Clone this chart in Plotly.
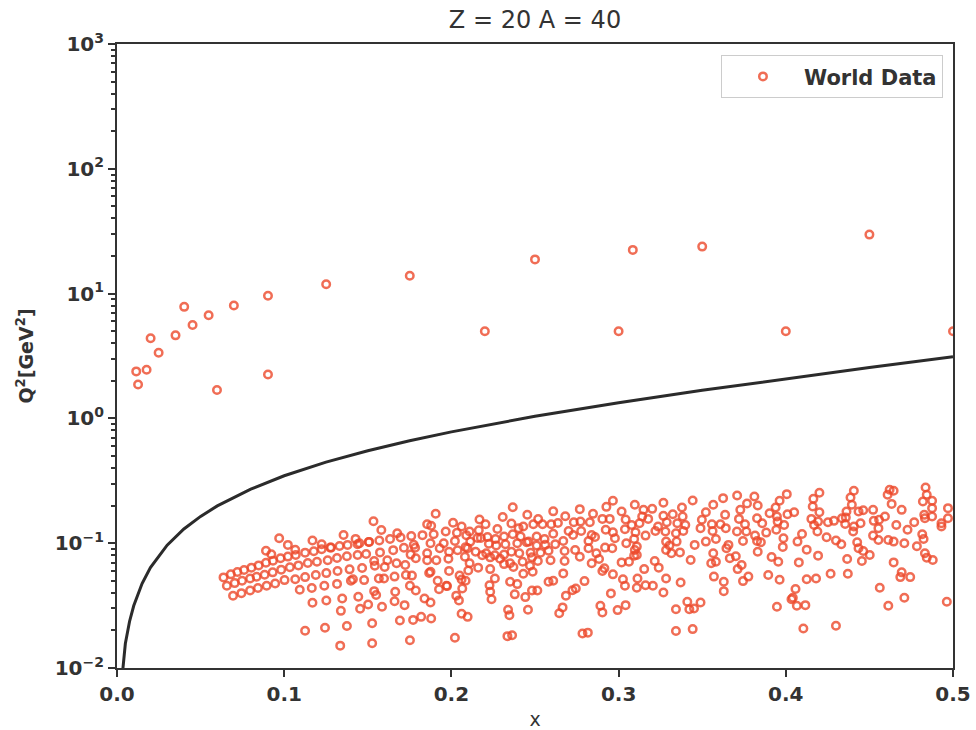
import plotly.graph_objects as go

# ---------------- data ----------------
# threshold curve (W = 2 GeV line)
curve_x = [0.0035, 0.005, 0.0075, 0.01, 0.015, 0.02, 0.03, 0.04, 0.05, 0.06, 0.08, 0.1,
           0.125, 0.15, 0.175, 0.2, 0.25, 0.3, 0.35, 0.4, 0.45, 0.5]
curve_q2 = [0.0098, 0.0157, 0.0236, 0.0315, 0.0475, 0.0637, 0.0965, 0.130, 0.164, 0.199,
            0.271, 0.347, 0.446, 0.551, 0.662, 0.780, 1.04, 1.337, 1.68, 2.08, 2.553, 3.12]

# high-Q2 world data
top_x = [0.0115, 0.0126, 0.0177, 0.0201, 0.0249, 0.035, 0.0402, 0.0452, 0.0548, 0.0598,
         0.0699, 0.0903, 0.0903, 0.1251, 0.1751, 0.22, 0.25, 0.3085, 0.3, 0.35, 0.4, 0.45, 0.5]
top_q2 = [2.38, 1.87, 2.45, 4.39, 3.36, 4.63, 7.83, 5.61, 6.71, 1.69, 8.02, 9.6, 2.25,
          11.9, 13.9, 5.0, 18.8, 22.4, 5.0, 23.8, 5.0, 29.7, 5.0]

# low-Q2 world data, region x < 0.16
a_x = [0.0637, 0.0681, 0.0720, 0.0760, 0.0804, 0.0847, 0.0891, 0.0933, 0.0978, 0.1022,
       0.1069, 0.1125, 0.1177, 0.1224, 0.1280, 0.1331, 0.1379, 0.1439, 0.1508, 0.1569,
       0.0657, 0.0704, 0.0748, 0.0796, 0.0835, 0.0883, 0.0931, 0.0982, 0.1034, 0.1085,
       0.1141, 0.1196, 0.1260, 0.1316, 0.1375, 0.1439, 0.1490, 0.1573,
       0.0694, 0.0744, 0.0796, 0.0843, 0.0895, 0.0946, 0.1002, 0.1066, 0.1125, 0.1189,
       0.1252, 0.1319, 0.1391, 0.1466, 0.1542,
       0.1093, 0.1165, 0.1240, 0.1316, 0.1399, 0.1478, 0.1566,
       0.0970, 0.0891, 0.0923, 0.1022, 0.1066, 0.1169, 0.1224, 0.1276, 0.1355, 0.1427,
       0.1450, 0.1506, 0.1534, 0.1581, 0.1169, 0.1252, 0.1347, 0.1443, 0.1339, 0.1454,
       0.1502, 0.1538, 0.1550, 0.1125, 0.1244, 0.1375, 0.1526, 0.1335, 0.1526, 0.1538,
       0.1411]
a_q2 = [0.0532, 0.0563, 0.0587, 0.0610, 0.0637, 0.0664, 0.0698, 0.0725, 0.0757, 0.0781,
        0.0805, 0.0840, 0.0861, 0.0893, 0.0922, 0.0951, 0.0969, 0.0981, 0.1024, 0.1050,
        0.0456, 0.0479, 0.0500, 0.0522, 0.0539, 0.0559, 0.0584, 0.0614, 0.0641, 0.0664,
        0.0693, 0.0711, 0.0730, 0.0762, 0.0786, 0.0805, 0.0820, 0.0844,
        0.0379, 0.0398, 0.0418, 0.0437, 0.0456, 0.0476, 0.0506, 0.0515, 0.0535, 0.0556,
        0.0576, 0.0598, 0.0617, 0.0633, 0.0661,
        0.0423, 0.0437, 0.0456, 0.0472, 0.0500, 0.0506, 0.0522,
        0.1096, 0.0871, 0.0815, 0.0969, 0.0887, 0.1050, 0.0981, 0.0922, 0.1164, 0.1083,
        0.0999, 0.1024, 0.1500, 0.1277, 0.0333, 0.0347, 0.0361, 0.0372, 0.0287, 0.0298,
        0.0323, 0.0413, 0.0384, 0.0199, 0.0210, 0.0217, 0.0228, 0.0151, 0.0158, 0.0720,
        0.0515]

# region 0.16 < x < 0.265
b_x = [0.1906, 0.2367, 0.2454, 0.2609, 0.2307, 0.2519, 0.2168, 0.1855, 0.1879, 0.2010,
       0.2061, 0.2109, 0.2164, 0.2204, 0.2275, 0.2359, 0.2402, 0.2430, 0.2490, 0.2545,
       0.2597, 0.2637, 0.1676, 0.1760, 0.1827, 0.1894, 0.1966, 0.2033, 0.2089, 0.2156,
       0.2216, 0.2264, 0.2315, 0.2367, 0.2414, 0.2462, 0.2510, 0.2557, 0.2609, 0.1633,
       0.1696, 0.1775, 0.1875, 0.1954, 0.2021, 0.2085, 0.2113, 0.2176, 0.2224, 0.2268,
       0.2323, 0.2394, 0.2450, 0.2510, 0.2561, 0.2621, 0.1652, 0.1716, 0.1783, 0.1855,
       0.1930, 0.1986, 0.2037, 0.2097, 0.2145, 0.2208, 0.2260, 0.2315, 0.2359, 0.2406,
       0.2474, 0.2533, 0.2581, 0.1617, 0.1672, 0.1756, 0.1787, 0.1855, 0.1910, 0.1982,
       0.2081, 0.2109, 0.2184, 0.2232, 0.2291, 0.2351, 0.2426, 0.2482, 0.2517, 0.2593,
       0.1601, 0.1724, 0.1875, 0.1986, 0.2101, 0.2160, 0.2232, 0.2315, 0.2371, 0.2470,
       0.1597, 0.1660, 0.1728, 0.1764, 0.1867, 0.1918, 0.1974, 0.2049, 0.2061, 0.2085,
       0.2228, 0.2260, 0.2351, 0.2394, 0.2430, 0.2486, 0.2581, 0.2609, 0.1664, 0.1752,
       0.1787, 0.1926, 0.1970, 0.2065, 0.2232, 0.2240, 0.2379, 0.2442, 0.2482, 0.2514,
       0.1585, 0.1660, 0.1720, 0.1839, 0.1875, 0.2029, 0.2045, 0.2339, 0.2458, 0.2645,
       0.1692, 0.1771, 0.1819, 0.1879, 0.2061, 0.2097, 0.2347, 0.1752, 0.2021, 0.2335,
       0.2363]
b_q2 = [0.172, 0.194, 0.169, 0.180, 0.162, 0.156, 0.155, 0.142, 0.138, 0.146,
        0.136, 0.124, 0.127, 0.142, 0.130, 0.144, 0.132, 0.136, 0.142, 0.142,
        0.142, 0.145, 0.120, 0.114, 0.116, 0.118, 0.124, 0.121, 0.116, 0.110,
        0.112, 0.108, 0.113, 0.118, 0.113, 0.103, 0.113, 0.108, 0.119, 0.108,
        0.111, 0.097, 0.100, 0.100, 0.104, 0.093, 0.103, 0.110, 0.099, 0.096,
        0.098, 0.100, 0.102, 0.096, 0.097, 0.098, 0.088, 0.092, 0.092, 0.083,
        0.091, 0.0855, 0.088, 0.091, 0.0855, 0.083, 0.080, 0.081, 0.0855, 0.083,
        0.084, 0.084, 0.087, 0.073, 0.069, 0.081, 0.0757, 0.073, 0.073, 0.075,
        0.078, 0.069, 0.080, 0.077, 0.075, 0.069, 0.071, 0.077, 0.072, 0.073,
        0.0645, 0.0668, 0.0591, 0.060, 0.0605, 0.0637, 0.062, 0.068, 0.0645, 0.066,
        0.0522, 0.054, 0.0556, 0.055, 0.0577, 0.050, 0.0453, 0.055, 0.0512, 0.050,
        0.0461, 0.0522, 0.0491, 0.047, 0.057, 0.0591, 0.0491, 0.050, 0.0408, 0.0456,
        0.0418, 0.0428, 0.0456, 0.0434, 0.0408, 0.0356, 0.0389, 0.037, 0.0418, 0.0418,
        0.031, 0.0343, 0.0319, 0.0361, 0.0335, 0.038, 0.0348, 0.0293, 0.0293, 0.0275,
        0.024, 0.0243, 0.0257, 0.0249, 0.0272, 0.0257, 0.0265, 0.0167, 0.0175, 0.018,
        0.0183]

# region 0.265 < x < 0.385
c_x = [0.2966, 0.3097, 0.3268, 0.3443, 0.3625, 0.3709, 0.3812, 0.2768, 0.2927, 0.3018,
       0.3149, 0.3201, 0.3268, 0.3324, 0.3379, 0.3383, 0.3522, 0.3566, 0.3637, 0.3728,
       0.3768, 0.3832, 0.2681, 0.2732, 0.2772, 0.2847, 0.2828, 0.2903, 0.2947, 0.3042,
       0.3141, 0.3125, 0.3177, 0.3236, 0.3288, 0.3351, 0.3399, 0.3498, 0.3558, 0.3609,
       0.3720, 0.3756, 0.3828, 0.2701, 0.2776, 0.2839, 0.2923, 0.2966, 0.3038, 0.3078,
       0.3101, 0.3161, 0.3220, 0.3280, 0.3343, 0.3387, 0.3490, 0.3562, 0.3641, 0.3708,
       0.3764, 0.3816, 0.2669, 0.2728, 0.2820, 0.2859, 0.2978, 0.3046, 0.3109, 0.3093,
       0.3284, 0.3304, 0.3347, 0.3455, 0.3522, 0.3582, 0.3657, 0.3744, 0.3828, 0.2677,
       0.2740, 0.2820, 0.2867, 0.2919, 0.2962, 0.3109, 0.3097, 0.3284, 0.3316, 0.3367,
       0.3431, 0.3566, 0.3645, 0.3665, 0.3701, 0.3832, 0.2677, 0.2768, 0.2839, 0.2883,
       0.3018, 0.3062, 0.3093, 0.3216, 0.3240, 0.3153, 0.3582, 0.3554, 0.3736, 0.3712,
       0.2669, 0.2915, 0.2903, 0.2966, 0.3026, 0.3113, 0.3284, 0.3371, 0.3570, 0.3629,
       0.3776, 0.3744, 0.2796, 0.2685, 0.2744, 0.2724, 0.2954, 0.3038, 0.3109, 0.3161,
       0.3205, 0.3268, 0.3629, 0.2665, 0.2891, 0.2903, 0.2994, 0.3042, 0.3343, 0.3411,
       0.3423, 0.3451, 0.3490, 0.2784, 0.2816, 0.3343, 0.3443]
c_q2 = [0.2188, 0.203, 0.2106, 0.220, 0.2296, 0.2413, 0.2368, 0.1874, 0.1956, 0.1795,
        0.185, 0.1885, 0.1656, 0.1708, 0.1932, 0.1635, 0.1772, 0.203, 0.1687, 0.185,
        0.208, 0.2004, 0.1645, 0.147, 0.149, 0.1718, 0.147, 0.1566, 0.1566, 0.155,
        0.1635, 0.1445, 0.1566, 0.136, 0.147, 0.1445, 0.140, 0.154, 0.142, 0.142,
        0.1566, 0.142, 0.1585, 0.1254, 0.1254, 0.1164, 0.128, 0.1225, 0.1294, 0.140,
        0.1225, 0.115, 0.1254, 0.124, 0.120, 0.1254, 0.132, 0.1254, 0.132, 0.124,
        0.124, 0.115, 0.1043, 0.1164, 0.1043, 0.112, 0.1096, 0.0998, 0.0939, 0.108,
        0.103, 0.0957, 0.103, 0.0969, 0.103, 0.108, 0.0969, 0.1043, 0.1043, 0.0866,
        0.0882, 0.091, 0.083, 0.0922, 0.091, 0.0805, 0.0882, 0.0882, 0.083, 0.0844,
        0.0734, 0.083, 0.091, 0.0757, 0.0785, 0.0855, 0.072, 0.078, 0.069, 0.0748,
        0.0702, 0.0711, 0.0795, 0.072, 0.0637, 0.062, 0.0711, 0.069, 0.0668, 0.062,
        0.0573, 0.0629, 0.0598, 0.0563, 0.0515, 0.0522, 0.0522, 0.0485, 0.054, 0.0491,
        0.054, 0.0497, 0.0497, 0.038, 0.0434, 0.042, 0.0396, 0.0456, 0.044, 0.0461,
        0.0456, 0.0403, 0.0413, 0.0306, 0.0315, 0.0279, 0.0291, 0.0319, 0.0296, 0.0339,
        0.0296, 0.030, 0.0335, 0.0189, 0.0192, 0.0198, 0.0205]

# region x > 0.385
d_x = [0.3939, 0.3963, 0.4006, 0.3903, 0.3947, 0.3951, 0.3990, 0.4050, 0.4010, 0.3859,
       0.3883, 0.3943, 0.3986, 0.3982, 0.3851, 0.3915, 0.3955, 0.3895, 0.3963, 0.4058,
       0.4034, 0.4042, 0.3947, 0.4066, 0.4117, 0.4105, 0.4300, 0.4125, 0.4181, 0.4268,
       0.4371, 0.4078, 0.4125, 0.4193, 0.4070, 0.4097, 0.4165, 0.4201, 0.4161, 0.4201,
       0.4153, 0.4169, 0.4189, 0.4193, 0.4252, 0.4288, 0.4244, 0.4300, 0.4332, 0.4336,
       0.4363, 0.4359, 0.4355, 0.4407, 0.4387, 0.4395, 0.4407, 0.4403, 0.4435, 0.4463,
       0.4447, 0.4427, 0.4435, 0.4463, 0.4502, 0.4455, 0.4367, 0.4522, 0.4526, 0.4558,
       0.4554, 0.4522, 0.4554, 0.4593, 0.4609, 0.4621, 0.4645, 0.4633, 0.4613, 0.4645,
       0.4661, 0.4709, 0.4728, 0.4768, 0.4693, 0.4784, 0.4645, 0.4693, 0.4685, 0.4744,
       0.4562, 0.4613, 0.4709, 0.4836, 0.4843, 0.4820, 0.4875, 0.4875, 0.4828, 0.4832,
       0.4875, 0.4931, 0.4931, 0.4970, 0.4970, 0.4816, 0.4824, 0.4832, 0.4843, 0.4879,
       0.4963]
d_q2 = [0.1932, 0.2188, 0.2473, 0.174, 0.1635, 0.149, 0.140, 0.1772, 0.1708, 0.1445,
        0.1216, 0.128, 0.1096, 0.0934, 0.1018, 0.0776, 0.0711, 0.0556, 0.0510, 0.0429,
        0.0356, 0.0365, 0.031, 0.0315, 0.0319, 0.0207, 0.0218, 0.0515, 0.0522, 0.057,
        0.057, 0.0702, 0.0888, 0.0795, 0.103, 0.1186, 0.2267, 0.2535, 0.1968, 0.1772,
        0.1566, 0.140, 0.124, 0.149, 0.147, 0.151, 0.1116, 0.105, 0.0981, 0.1585,
        0.1795, 0.1605, 0.1425, 0.263, 0.2325, 0.203, 0.136, 0.124, 0.1795, 0.1838,
        0.1445, 0.1018, 0.091, 0.0866, 0.0805, 0.072, 0.0748, 0.185, 0.151, 0.154,
        0.132, 0.115, 0.106, 0.1635, 0.2443, 0.268, 0.263, 0.2065, 0.106, 0.103,
        0.140, 0.0999, 0.128, 0.147, 0.185, 0.0945, 0.0702, 0.0584, 0.0535, 0.0535,
        0.044, 0.0315, 0.0365, 0.2797, 0.2443, 0.216, 0.2188, 0.1909, 0.1687, 0.1585,
        0.1635, 0.1445, 0.136, 0.1909, 0.1585, 0.118, 0.108, 0.083, 0.0766, 0.0734,
        0.0339]

world_x = top_x + a_x + b_x + c_x + d_x
world_q2 = top_q2 + a_q2 + b_q2 + c_q2 + d_q2

y_tickvals = [0.01, 0.1, 1, 10, 100, 1000]
y_ticktext = ["10<sup>−2</sup>", "10<sup>−1</sup>", "10<sup>0</sup>",
              "10<sup>1</sup>", "10<sup>2</sup>", "10<sup>3</sup>"]
x_tickvals = [0.0, 0.1, 0.2, 0.3, 0.4, 0.5]
x_ticktext = ["0.0", "0.1", "0.2", "0.3", "0.4", "0.5"]

# ---------------- figure ----------------
FONT = "DejaVu Sans"
DARK = "#333333"
RED = "rgba(236,72,42,0.8)"

minor_vals = [m * 10.0 ** e for e in range(-2, 3) for m in range(2, 10)]

fig = go.Figure()
fig.add_trace(go.Scatter(
    x=curve_x, y=curve_q2, mode="lines",
    line=dict(color="#2b2b2b", width=3), showlegend=False, hoverinfo="skip"))
fig.add_trace(go.Scatter(
    x=world_x, y=world_q2, mode="markers", name="<b>World Data</b>",
    marker=dict(symbol="circle-open", size=7.5, color=RED, line=dict(width=2.5, color=RED))))

fig.update_layout(
    width=976, height=730,
    margin=dict(l=117, r=23, t=44, b=62, autoexpand=False),
    paper_bgcolor="white", plot_bgcolor="white",
    font=dict(family=FONT, color=DARK),
    title=dict(text="Z = 20 A = 40", x=0.5, xref="paper", xanchor="center",
               y=1, yref="container", yanchor="top", pad=dict(t=11),
               font=dict(family=FONT, size=24, color=DARK)),
    legend=dict(x=0.988, y=0.982, xanchor="right", yanchor="top",
                bgcolor="rgba(255,255,255,0.9)", bordercolor="#cccccc", borderwidth=1,
                font=dict(family=FONT, size=21, color=DARK), itemwidth=72,
                tracegroupgap=0),
    xaxis=dict(range=[0, 0.5], tickvals=x_tickvals, ticktext=x_ticktext,
               showgrid=False, zeroline=False, showline=True, mirror=True,
               linecolor=DARK, linewidth=2, ticks="outside", ticklen=7, tickwidth=2,
               tickcolor=DARK, automargin=False,
               tickfont=dict(family=FONT, size=20, color=DARK, weight="bold"),
               title=dict(text="x", font=dict(family=FONT, size=19, color=DARK), standoff=8)),
    yaxis=dict(type="log", range=[-2, 3], tickvals=y_tickvals, ticktext=y_ticktext,
               showgrid=False, zeroline=False, showline=True, mirror=True,
               linecolor=DARK, linewidth=2, ticks="outside", ticklen=7, tickwidth=2,
               tickcolor=DARK, automargin=False,
               tickfont=dict(family=FONT, size=20, color=DARK, weight="bold"),
               minor=dict(tickmode="array", tickvals=minor_vals, ticks="outside",
                          ticklen=4, tickwidth=1.5, tickcolor=DARK, showgrid=False),
               title=dict(text="<b>Q<sup>2</sup>[GeV<sup>2</sup>]</b>",
                          font=dict(family=FONT, size=19, color=DARK), standoff=16)),
)

fig.write_html("out.html")
